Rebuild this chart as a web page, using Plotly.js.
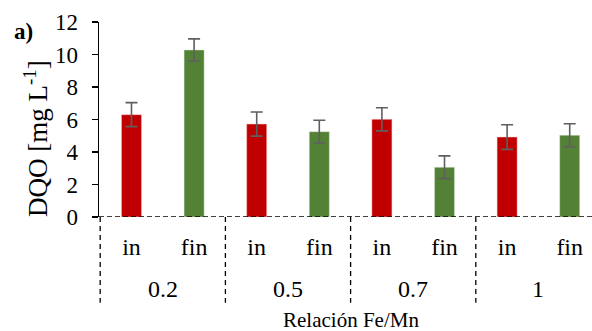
<!DOCTYPE html>
<html>
<head>
<meta charset="utf-8">
<script src="https://cdn.plot.ly/plotly-3.0.1.min.js"></script>
<style>html,body{margin:0;padding:0;background:#fff;}#chart{width:592px;height:331px;}</style>
</head>
<body>
<div id="chart"></div>
<script>
// Data
const groups = ['0.2', '0.5', '0.7', '1'];
const stages = ['in', 'fin'];
const inValues = [6.3, 5.72, 6.01, 4.92];
const inErrors = [0.74, 0.74, 0.71, 0.76];
const finValues = [10.28, 5.25, 3.06, 5.03];
const finErrors = [0.68, 0.7, 0.7, 0.71];
const yTicks = [0, 2, 4, 6, 8, 10, 12];

const inX = groups.map((g, i) => i * 2);
const finX = groups.map((g, i) => i * 2 + 1);
const tickVals = [];
const tickText = [];
groups.forEach((g, i) => { stages.forEach((s, j) => { tickVals.push(i * 2 + j); tickText.push(s); }); });

const FONT = 'Liberation Serif';
const errStyle = { type: 'data', visible: true, color: '#5f5f5f', thickness: 1.6, width: 6 };

const traces = [
  { type: 'bar', x: inX, y: inValues, width: 0.32, name: 'in',
    marker: { color: '#C00000', line: { color: 'rgba(255,200,200,0.6)', width: 0.8 } },
    error_y: Object.assign({ array: inErrors }, errStyle), hoverinfo: 'none' },
  { type: 'bar', x: finX, y: finValues, width: 0.32, name: 'fin',
    marker: { color: '#538135', line: { color: 'rgba(220,235,210,0.6)', width: 0.8 } },
    error_y: Object.assign({ array: finErrors }, errStyle), hoverinfo: 'none' }
];

const shapes = [];
shapes.push({ type: 'line', xref: 'paper', yref: 'y', x0: 0, x1: 1, y0: 0, y1: 0,
  line: { color: '#000', width: 1.5, dash: '5px,3px' } });
for (let i = 0; i <= groups.length; i++) {
  shapes.push({ type: 'line', xref: 'x', yref: 'paper', x0: i * 2 - 0.5, x1: i * 2 - 0.5, y0: 0, y1: -0.44,
    line: { color: '#000', width: 1.3, dash: '5px,4px' } });
}

const annotations = groups.map((g, i) => ({
  text: g, xref: 'x', yref: 'paper', x: i * 2 + 0.5, y: -0.37, showarrow: false,
  font: { family: FONT, size: 24, color: '#000' }, xanchor: 'center', yanchor: 'middle'
}));
annotations.push({ text: 'Relación Fe/Mn', xref: 'x', yref: 'paper', x: 3.5, y: -0.528,
  showarrow: false, font: { family: FONT, size: 21, color: '#000' }, xanchor: 'center', yanchor: 'middle' });
annotations.push({ text: 'DQO [mg L<sup>-1</sup>]', xref: 'paper', yref: 'paper', x: -0.128, y: 0.405,
  xanchor: 'center', yanchor: 'middle', textangle: -90, showarrow: false,
  font: { family: FONT, size: 27, color: '#000' } });
annotations.push({ text: '<b>a)</b>', xref: 'paper', yref: 'paper', x: -0.154, y: 0.95,
  xanchor: 'center', yanchor: 'middle', showarrow: false,
  font: { family: FONT, size: 23, color: '#000' } });

const layout = {
  width: 592, height: 331,
  margin: { l: 99, r: 0, t: 22, b: 114 },
  paper_bgcolor: '#fff', plot_bgcolor: '#fff',
  showlegend: false,
  barmode: 'overlay',
  font: { family: FONT, color: '#000' },
  xaxis: { range: [-0.519, 7.356], tickvals: tickVals, ticktext: tickText, showline: false,
    showgrid: false, zeroline: false, ticks: '', ticklabelstandoff: 13,
    tickfont: { family: FONT, size: 24, color: '#000' }, fixedrange: true },
  yaxis: { range: [0, 12], tickvals: yTicks, showline: true, linecolor: '#000', linewidth: 1.5,
    ticks: 'outside', ticklen: 6, tickwidth: 1.3, tickcolor: '#000', showgrid: false, zeroline: false,
    ticklabelstandoff: 9,
    tickfont: { family: FONT, size: 23, color: '#000' }, fixedrange: true },
  shapes: shapes,
  annotations: annotations
};

Plotly.newPlot('chart', traces, layout, { displayModeBar: false, staticPlot: true });
</script>
</body>
</html>
